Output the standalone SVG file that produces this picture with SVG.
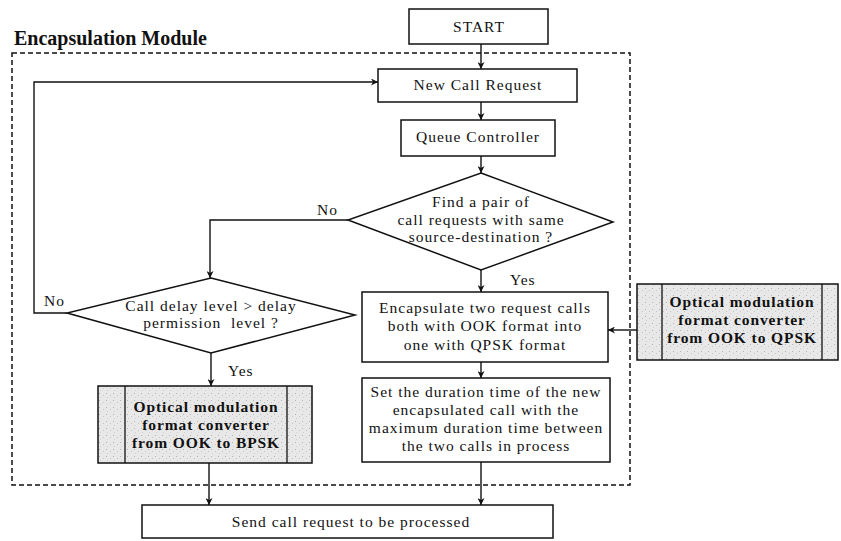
<svg xmlns="http://www.w3.org/2000/svg" width="841" height="541" viewBox="0 0 841 541">
  <defs>
    <marker id="arrow" viewBox="0 0 10 10" refX="10" refY="5" markerWidth="7" markerHeight="7" markerUnits="userSpaceOnUse" orient="auto">
      <path d="M0,0 L10,5 L0,10 L3,5 Z" fill="#111"/>
    </marker>
    <!-- grainy light-grey fill for the converter blocks -->
    <pattern id="stipple" width="7" height="7" patternUnits="userSpaceOnUse">
      <rect width="7" height="7" fill="#e8e8e8"/>
      <rect x="1" y="1" width="1" height="1" fill="#b4b4b4"/>
      <rect x="5" y="3" width="1" height="1" fill="#c4c4c4"/>
      <rect x="2" y="5" width="1" height="1" fill="#d0d0d0"/>
    </pattern>
  </defs>
  <style>
    .box { fill: #fff; stroke: #111; stroke-width: 1.5; }
    .conv { fill: url(#stipple); stroke: #111; stroke-width: 1.5; }
    .div { stroke: #111; stroke-width: 1.3; }
    .t { font-family: "Liberation Serif", "Times New Roman", serif; font-size: 15.5px; fill: #111; text-anchor: middle; letter-spacing: 1px; white-space: pre; }
    .b { font-family: "Liberation Serif", "Times New Roman", serif; font-size: 15.5px; font-weight: bold; fill: #111; text-anchor: middle; letter-spacing: 0.9px; }
    .lbl { font-family: "Liberation Serif", "Times New Roman", serif; font-size: 15.5px; fill: #111; letter-spacing: 1px; }
    .edge { fill: none; stroke: #111; stroke-width: 1.4; }
    .module { fill: none; stroke: #111; stroke-width: 1.5; stroke-dasharray: 5 3; }
  </style>

  <rect x="0" y="0" width="841" height="541" fill="#fff"/>

  <!-- Encapsulation module boundary -->
  <g id="module">
    <rect class="module" x="12" y="53" width="618" height="432"/>
    <text x="14" y="45" font-family="Liberation Serif, Times New Roman, serif" font-size="20" font-weight="bold" fill="#111">Encapsulation Module</text>
  </g>

  <g id="start">
    <rect class="box" x="409" y="9" width="139" height="35"/>
    <text class="t" x="479" y="32">START</text>
  </g>

  <g id="new-call">
    <rect class="box" x="378" y="69" width="199" height="33"/>
    <text class="t" x="478" y="90">New Call Request</text>
  </g>

  <g id="queue">
    <rect class="box" x="401" y="120" width="154" height="36"/>
    <text class="t" x="478" y="142">Queue Controller</text>
  </g>

  <g id="find-pair">
    <polygon class="box" points="481,173 613,222 481,270 348,220"/>
    <text class="t" x="481" y="207">Find a pair of</text>
    <text class="t" x="481" y="225">call requests with same</text>
    <text class="t" x="481" y="242">source-destination ?</text>
  </g>

  <g id="delay-check">
    <polygon class="box" points="211,278 355,315 211,353 67,313"/>
    <text class="t" x="211" y="311">Call delay level &gt; delay</text>
    <text class="t" x="211" y="328" xml:space="preserve">permission  level ?</text>
  </g>

  <g id="encapsulate">
    <rect class="box" x="362" y="292" width="246" height="70"/>
    <text class="t" x="485" y="313">Encapsulate two request calls</text>
    <text class="t" x="485" y="331">both with OOK format into</text>
    <text class="t" x="485" y="350">one with QPSK format</text>
  </g>

  <g id="set-duration">
    <rect class="box" x="362" y="378" width="248" height="84"/>
    <text class="t" x="486" y="397">Set the duration time of the new</text>
    <text class="t" x="486" y="415">encapsulated call with the</text>
    <text class="t" x="486" y="433">maximum duration time between</text>
    <text class="t" x="486" y="451">the two calls in process</text>
  </g>

  <g id="bpsk-converter">
    <rect class="conv" x="98" y="386" width="214" height="77"/>
    <line class="div" x1="125" y1="386" x2="125" y2="463"/>
    <line class="div" x1="287" y1="386" x2="287" y2="463"/>
    <text class="b" x="206" y="412">Optical modulation</text>
    <text class="b" x="206" y="430">format converter</text>
    <text class="b" x="206" y="448">from OOK to BPSK</text>
  </g>

  <g id="qpsk-converter">
    <rect class="conv" x="637" y="284" width="201" height="76"/>
    <line class="div" x1="662" y1="284" x2="662" y2="360"/>
    <line class="div" x1="822" y1="284" x2="822" y2="360"/>
    <text class="b" x="742" y="307">Optical modulation</text>
    <text class="b" x="742" y="325">format converter</text>
    <text class="b" x="742" y="343">from OOK to QPSK</text>
  </g>

  <g id="send">
    <rect class="box" x="142" y="505" width="411" height="33"/>
    <text class="t" x="351" y="527">Send call request to be processed</text>
  </g>

  <g id="connectors">
    <line class="edge" x1="481" y1="44" x2="481" y2="69" marker-end="url(#arrow)"/>
    <line class="edge" x1="481" y1="102" x2="481" y2="120" marker-end="url(#arrow)"/>
    <line class="edge" x1="481" y1="156" x2="481" y2="173" marker-end="url(#arrow)"/>
    <polyline class="edge" points="348,220 210,220 210,278" marker-end="url(#arrow)"/>
    <polyline class="edge" points="67,313 34,313 34,82 378,82" marker-end="url(#arrow)"/>
    <line class="edge" x1="211" y1="353" x2="211" y2="386" marker-end="url(#arrow)"/>
    <line class="edge" x1="209" y1="463" x2="209" y2="505" marker-end="url(#arrow)"/>
    <line class="edge" x1="481" y1="270" x2="481" y2="292" marker-end="url(#arrow)"/>
    <line class="edge" x1="481" y1="362" x2="481" y2="378" marker-end="url(#arrow)"/>
    <line class="edge" x1="481" y1="462" x2="481" y2="505" marker-end="url(#arrow)"/>
    <line class="edge" x1="637" y1="330" x2="608" y2="330" marker-end="url(#arrow)"/>
    <text class="lbl" x="317" y="215">No</text>
    <text class="lbl" x="44" y="306">No</text>
    <text class="lbl" x="228" y="376">Yes</text>
    <text class="lbl" x="510" y="285">Yes</text>
  </g>
</svg>
